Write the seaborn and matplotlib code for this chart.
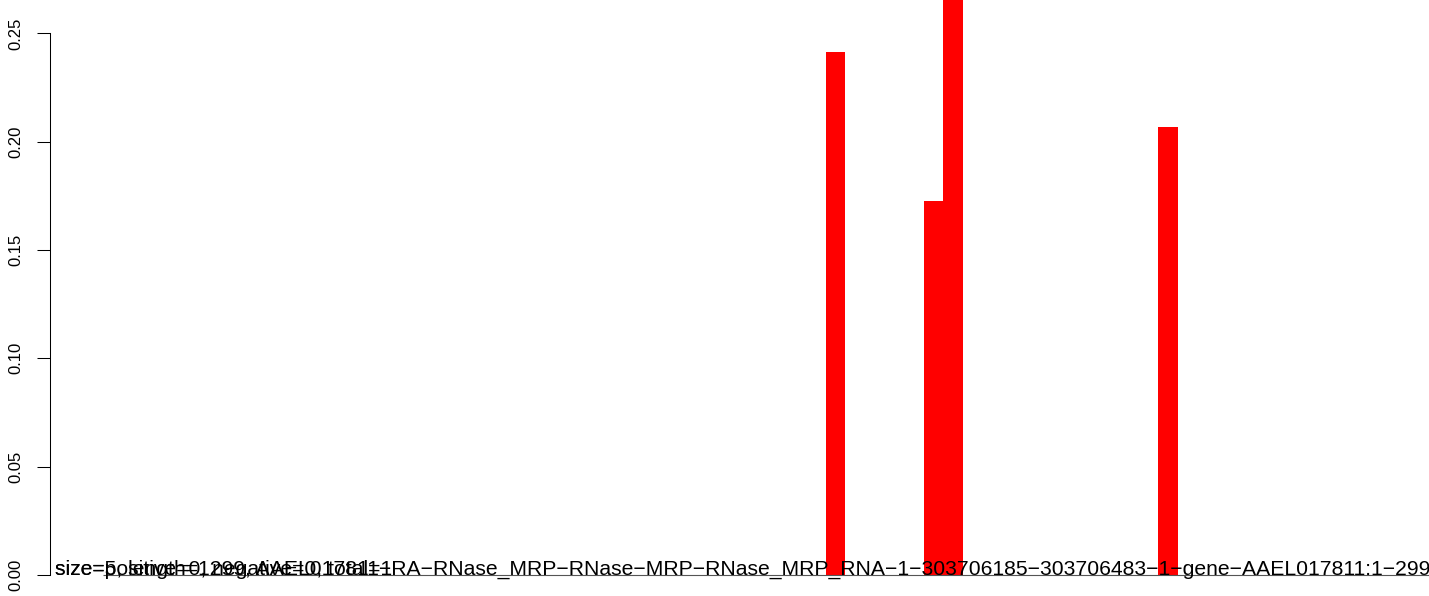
import numpy as np
import pandas as pd
import matplotlib
matplotlib.use('Agg')
import matplotlib.pyplot as plt
import seaborn as sns

# bar heights per position (only a few are non-zero)
n_pos = 70
hit_pos = [37, 42, 43, 54]
hit_val = [0.2414, 0.1726, 0.2800, 0.2068]

y_ticks = [0.00, 0.05, 0.10, 0.15, 0.20, 0.25]

# labels drawn on top of each other at the baseline
labels = [
    "size=5, length=1299, AAEL017811\u2212RA\u2212RNase_MRP\u2212RNase\u2212MRP\u2212RNase_MRP_RNA\u22121\u2212"
    "303706185\u2212303706483\u22121\u2212gene\u2212AAEL017811:1\u2212299",
    "size=positive=0, negative=0, total=1",
]

values = np.zeros(n_pos)
values[hit_pos] = hit_val
df = pd.DataFrame({'pos': np.arange(n_pos), 'value': values})

sns.set_style('white')
plt.rcParams['font.family'] = ['Liberation Sans', 'DejaVu Sans']

fig = plt.figure(figsize=(14.29, 5.96), dpi=100)
ax = fig.add_axes([50 / 1429, 0, 1 - 50 / 1429, 1])

sns.barplot(data=df, x='pos', y='value', color='#ff0000', saturation=1,
            width=1.0, linewidth=0, ax=ax)

# zero-height bars show up as a thin baseline
ax.hlines(0, -0.5, n_pos - 0.5, color='#555555', lw=0.8)

ax.set_xlim(-3.19, 67.35)
ax.set_ylim(-0.0097, 0.2654)

ax.set_yticks(y_ticks)
ax.set_yticklabels([f'{t:.2f}' for t in y_ticks], rotation=90, va='center',
                   fontsize=12)
ax.tick_params(axis='y', direction='out', length=9.4, width=0.75, pad=10,
               left=True, colors='black')
ax.set_xticks([])
ax.set_xlabel('')
ax.set_ylabel('')

for s in ['top', 'right', 'bottom']:
    ax.spines[s].set_visible(False)
ax.spines['left'].set_bounds(0, 0.25)
ax.spines['left'].set_linewidth(0.75)
ax.spines['left'].set_color('black')

for lab in labels:
    ax.annotate(lab, xy=(0.0036, 0), xycoords=('axes fraction', 'data'),
                ha='left', va='baseline', fontsize=15.2, color='black',
                annotation_clip=False)

fig.savefig('out.png', dpi=100)
